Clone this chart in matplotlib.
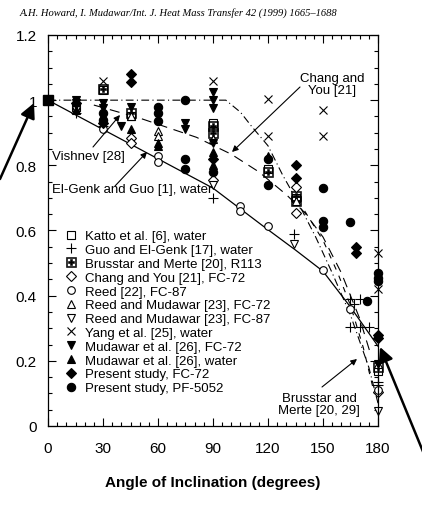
import matplotlib
matplotlib.use("Agg")
import matplotlib.pyplot as plt
from matplotlib.ticker import MultipleLocator, FuncFormatter

plt.rcParams['font.family'] = ['Liberation Sans', 'DejaVu Sans']

W, H = 422, 510

# ---- data ----
ref_x = [0]
ref_y = [1.0]

katto_x = [15, 30, 45, 90, 120, 135, 180]
katto_y = [0.98, 1.03, 0.95, 0.93, 0.79, 0.70, 0.17]

guo_x = [15, 30, 90, 134, 165, 170, 167, 165, 170, 175, 180, 180]
guo_y = [0.96, 0.92, 0.70, 0.59, 0.39, 0.39, 0.375, 0.305, 0.305, 0.305, 0.135, 0.125]

brus_x = [30, 45, 90, 90, 120, 135, 135, 180]
brus_y = [1.035, 0.96, 0.92, 0.90, 0.78, 0.705, 0.69, 0.18]

chang_x = [45, 45, 90, 135, 135, 180]
chang_y = [0.885, 0.87, 0.755, 0.735, 0.655, 0.105]

reed_x = [30, 60, 60, 105, 105, 120, 150, 165, 180]
reed_y = [0.91, 0.83, 0.81, 0.675, 0.66, 0.613, 0.48, 0.36, 0.11]

rm72_x = [15, 45, 60, 60, 90, 135, 180]
rm72_y = [0.98, 0.95, 0.905, 0.89, 0.88, 0.69, 0.19]

rm87_x = [15, 90, 134, 180]
rm87_y = [0.97, 0.74, 0.56, 0.045]

yang_x = [30, 90, 120, 120, 150, 150, 180, 180]
yang_y = [1.06, 1.06, 1.005, 0.89, 0.97, 0.89, 0.53, 0.42]

mud72_x = [15, 15, 30, 30, 40, 45, 75, 75, 90, 90, 90, 90, 180]
mud72_y = [1.0, 0.99, 0.99, 0.975, 0.92, 0.98, 0.93, 0.91, 1.025, 1.0, 0.975, 0.87, 0.19]

mudw_x = [15, 30, 45, 60, 60, 90, 90, 120]
mudw_y = [0.97, 0.95, 0.91, 0.87, 0.86, 0.84, 0.80, 0.83]

pfc_x = [15, 30, 45, 45, 90, 135, 135, 168, 168, 180, 180]
pfc_y = [0.99, 0.93, 1.08, 1.055, 0.82, 0.80, 0.76, 0.55, 0.53, 0.28, 0.27]

ppf_x = [30, 30, 60, 60, 60, 75, 75, 75, 90, 120, 120, 150, 150, 150, 165, 174, 180, 180, 180]
ppf_y = [0.96, 0.94, 0.98, 0.96, 0.935, 1.0, 0.82, 0.79, 0.78, 0.82, 0.74, 0.73, 0.63, 0.61, 0.625, 0.385, 0.47, 0.455, 0.445]

# correlation curves
elgenk_x = [0, 30, 60, 90, 117, 135, 150, 165, 180]
elgenk_y = [1.0, 0.91, 0.82, 0.73, 0.615, 0.54, 0.475, 0.365, 0.245]

dashdot_x = [0, 90, 97, 105, 111, 120, 128, 136, 146, 155, 165, 175, 180]
dashdot_y = [1.0, 1.0, 1.0, 0.963, 0.92, 0.86, 0.77, 0.69, 0.58, 0.47, 0.34, 0.18, 0.07]

vish_x = [25, 50, 81, 100, 115, 130, 140, 150, 160, 170, 176]
vish_y = [0.985, 0.945, 0.886, 0.834, 0.78, 0.71, 0.655, 0.58, 0.47, 0.33, 0.22]

brusline_x = [140, 150, 158, 165, 172, 178]
brusline_y = [0.66, 0.57, 0.47, 0.37, 0.24, 0.10]

series = [
    ("Katto et al. [6], water", katto_x, katto_y, dict(marker='s', mfc='white')),
    ("Guo and El-Genk [17], water", guo_x, guo_y, dict(marker='+', ms=7)),
    ("Brusstar and Merte [20], R113", brus_x, brus_y, dict(marker='$\\boxplus$', ms=7, mew=0.4)),
    ("Chang and You [21], FC-72", chang_x, chang_y, dict(marker='D', mfc='white', ms=5)),
    ("Reed [22], FC-87", reed_x, reed_y, dict(marker='o', mfc='white')),
    ("Reed and Mudawar [23], FC-72", rm72_x, rm72_y, dict(marker='^', mfc='white')),
    ("Reed and Mudawar [23], FC-87", rm87_x, rm87_y, dict(marker='v', mfc='white')),
    ("Yang et al. [25], water", yang_x, yang_y, dict(marker='x', ms=5.5)),
    ("Mudawar et al. [26], FC-72", mud72_x, mud72_y, dict(marker='v', ms=6)),
    ("Mudawar et al. [26], water", mudw_x, mudw_y, dict(marker='^', ms=6)),
    ("Present study, FC-72", pfc_x, pfc_y, dict(marker='D', ms=5)),
    ("Present study, PF-5052", ppf_x, ppf_y, dict(marker='o', ms=6)),
]

fig = plt.figure(figsize=(W / 100, H / 100), dpi=100)
ax = fig.add_axes([48 / W, 1 - 427 / H, 330 / W, 391 / H])


def px(x, y):
    return (x / W, 1 - y / H)


ax.plot(elgenk_x, elgenk_y, color='k', lw=0.9)
ax.plot(dashdot_x, dashdot_y, color='k', lw=0.8, ls=(0, (7, 3, 1, 3)))
ax.plot(vish_x, vish_y, color='k', lw=0.8, ls=(0, (9, 6)))
ax.plot(brusline_x, brusline_y, color='k', lw=0.8, ls=(0, (5, 6)))

for label, xs, ys, st in series:
    kw = dict(ls='none', color='k', mec='k', mew=0.8, ms=5.5, clip_on=False)
    kw.update(st)
    ax.plot(xs, ys, label=label, **kw)

ax.plot(ref_x, ref_y, ls='none', marker='s', color='k', ms=7, clip_on=False)

ax.set_xlim(0, 180)
ax.set_ylim(0, 1.2)
ax.xaxis.set_major_locator(MultipleLocator(30))
ax.xaxis.set_minor_locator(MultipleLocator(5))
ax.yaxis.set_major_locator(MultipleLocator(0.2))
ax.yaxis.set_minor_locator(MultipleLocator(0.05))
ax.yaxis.set_major_formatter(FuncFormatter(lambda v, p: f"{v:.1f}".rstrip('0').rstrip('.') if v else "0"))
ax.tick_params(which='both', direction='in', top=True, right=True, width=0.8)
ax.tick_params(which='major', length=6, labelsize=11)
ax.tick_params(axis='x', which='major', pad=11)
ax.tick_params(axis='y', which='major', pad=8)
ax.tick_params(which='minor', length=3)
for s in ax.spines.values():
    s.set_linewidth(0.9)

ax.set_xlabel("Angle of Inclination (degrees)", fontsize=11, fontweight='bold', labelpad=14)

ax.legend(loc='upper left', bbox_to_anchor=px(64, 231), bbox_transform=fig.transFigure,
          frameon=False, fontsize=9.5, labelspacing=0.12, handlelength=1.0,
          handletextpad=0.6, borderpad=0, borderaxespad=0)

fig.text(*px(20, 13), "A.H. Howard, I. Mudawar/Int. J. Heat Mass Transfer 42 (1999) 1665\u20131688",
         family=['Liberation Serif'], style='italic', fontsize=7.6, va='center', ha='left')

tfs = 9.5
fig.text(*px(52, 157), "Vishnev [28]", fontsize=tfs, va='center', ha='left')
fig.text(*px(52, 190), "El-Genk and Guo [1], water", fontsize=tfs, va='center', ha='left')
fig.text(*px(332, 85), "Chang and\nYou [21]", fontsize=tfs, va='center', ha='center', linespacing=0.95)
fig.text(*px(319, 405), "Brusstar and\nMerte [20, 29]", fontsize=tfs, va='center', ha='center', linespacing=0.95)

small = dict(arrowstyle='-|>', lw=0.8, color='k', mutation_scale=9, shrinkA=0, shrinkB=0)
big = dict(arrowstyle='-|>', lw=1.8, color='k', mutation_scale=22, shrinkA=0, shrinkB=0)
arrows = [
    ((93, 148), (120, 116), small),
    ((115, 187), (147, 153), small),
    ((300, 88), (232, 153), small),
    ((322, 388), (357, 360), small),
    ((0, 180), (34, 104), big),
    ((424, 455), (380, 348), big),
]
for (x0, y0), (x1, y1), st in arrows:
    ax.annotate("", xy=(x1, H - y1), xycoords='figure pixels',
                xytext=(x0, H - y0), textcoords='figure pixels',
                arrowprops=st, annotation_clip=False)

fig.savefig("out.png", dpi=100)
